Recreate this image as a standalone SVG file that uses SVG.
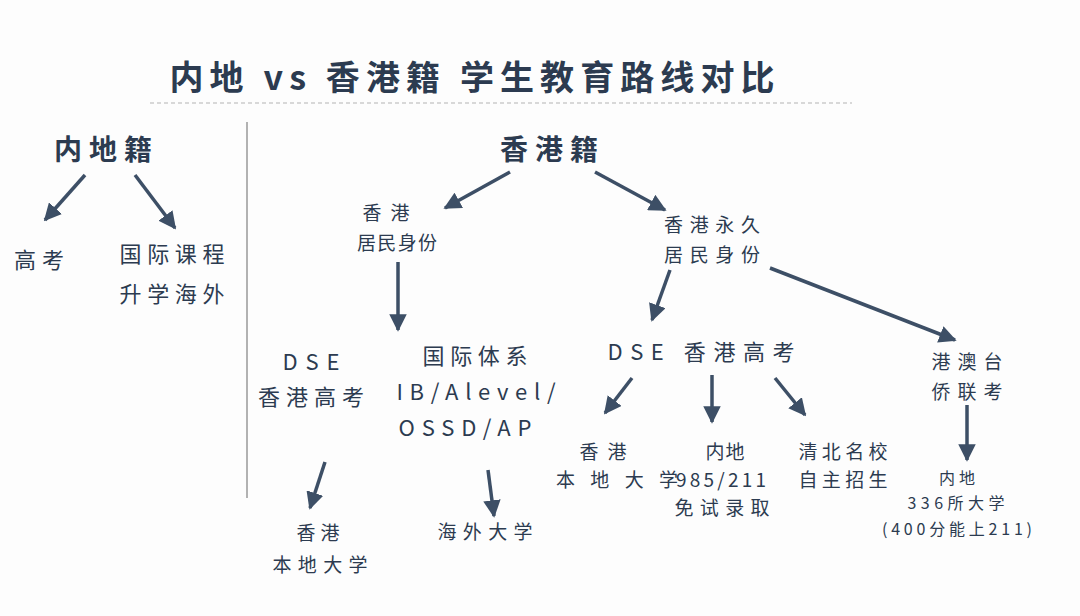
<svg xmlns="http://www.w3.org/2000/svg" width="1080" height="616" viewBox="0 0 1080 616">
<defs>
<marker id="ah" viewBox="0 0 10 10" refX="9" refY="5" markerWidth="5" markerHeight="5" orient="auto"><path d="M0,0 L10,5 L0,10 z" fill="#3d4f66"/></marker>
<style>
text{font-family:"Noto Sans CJK SC","Noto Sans",sans-serif;fill:#2c3b50;text-anchor:middle}
.t{font-size:34px;font-weight:bold}
.h{font-size:28px;font-weight:bold}
.m{font-size:22px}
.s{font-size:19px}
.xs{font-size:16px}
#connectors line{stroke:#3d4f66;stroke-width:3.5;marker-end:url(#ah)}
</style>
</defs>
<rect width="1080" height="616" fill="#fdfdfd"/>
<text class="t" x="472" y="90" textLength="605" lengthAdjust="spacing">内地 vs 香港籍 学生教育路线对比</text>
<line x1="150" y1="103" x2="852" y2="103" stroke="#ccc" stroke-width="1.5" stroke-dasharray="4 3"/>
<line x1="247" y1="122" x2="247" y2="498" stroke="#999" stroke-width="1.5"/>
<g id="connectors">
<line x1="85" y1="175" x2="45" y2="220"/>
<line x1="135" y1="175" x2="175" y2="228"/>
<line x1="510" y1="172" x2="445" y2="208"/>
<line x1="595" y1="172" x2="665" y2="210"/>
<line x1="398" y1="262" x2="398" y2="330"/>
<line x1="325" y1="462" x2="310" y2="508"/>
<line x1="488" y1="470" x2="494" y2="516"/>
<line x1="670" y1="270" x2="652" y2="320"/>
<line x1="770" y1="268" x2="955" y2="340"/>
<line x1="632" y1="378" x2="605" y2="413"/>
<line x1="712" y1="375" x2="712" y2="422"/>
<line x1="775" y1="378" x2="805" y2="415"/>
<line x1="967" y1="405" x2="967" y2="460"/>
</g>
<g id="mainland"><text class="h" x="103" y="160" textLength="98">内地籍</text></g>
<g id="gaokao"><text class="m" x="39" y="268" textLength="50">高考</text></g>
<g id="intl"><text class="m" x="172" y="262" textLength="105">国际课程</text><text class="m" x="172" y="302" textLength="105">升学海外</text></g>
<g id="hk"><text class="h" x="549" y="160" textLength="98">香港籍</text></g>
<g id="hkres"><text class="s" x="386" y="220" textLength="47">香港</text><text class="s" x="397" y="250" textLength="80">居民身份</text></g>
<g id="hkperm"><text class="s" x="712" y="232" textLength="96">香港永久</text><text class="s" x="712" y="262" textLength="96">居民身份</text></g>
<g id="dse1"><text class="m" x="311" y="370" textLength="57">DSE</text><text class="m" x="311" y="405" textLength="106">香港高考</text></g>
<g id="ibsys"><text class="m" x="475" y="364" textLength="105">国际体系</text><text class="m" x="476" y="400" textLength="159">IB/Alevel/</text><text class="m" x="465" y="436" textLength="133">OSSD/AP</text></g>
<g id="hkuni1"><text class="s" x="318" y="540" textLength="43">香港</text><text class="s" x="320" y="572" textLength="95">本地大学</text></g>
<g id="overseas"><text class="s" x="485" y="539" textLength="95">海外大学</text></g>
<g id="dse2"><text class="m" x="701" y="360" textLength="187">DSE 香港高考</text></g>
<g id="gat"><text class="s" x="967" y="369" textLength="71">港澳台</text><text class="s" x="967" y="399" textLength="71">侨联考</text></g>
<g id="hkuni2"><text class="s" x="603" y="459" textLength="47">香港</text><text class="s" x="617" y="487" textLength="122">本地大学</text></g>
<g id="c985"><text class="s" x="725" y="459" textLength="39">内地</text><text class="s" x="721" y="487" textLength="90">985/211</text><text class="s" x="722" y="515" textLength="95">免试录取</text></g>
<g id="qb"><text class="s" x="843" y="459" textLength="89">清北名校</text><text class="s" x="843" y="487" textLength="89">自主招生</text></g>
<g id="c336"><text class="xs" x="957" y="484" textLength="36">内地</text><text class="xs" x="956" y="509" textLength="97">336所大学</text><text class="xs" x="957" y="535" textLength="150">(400分能上211)</text></g>
</svg>
